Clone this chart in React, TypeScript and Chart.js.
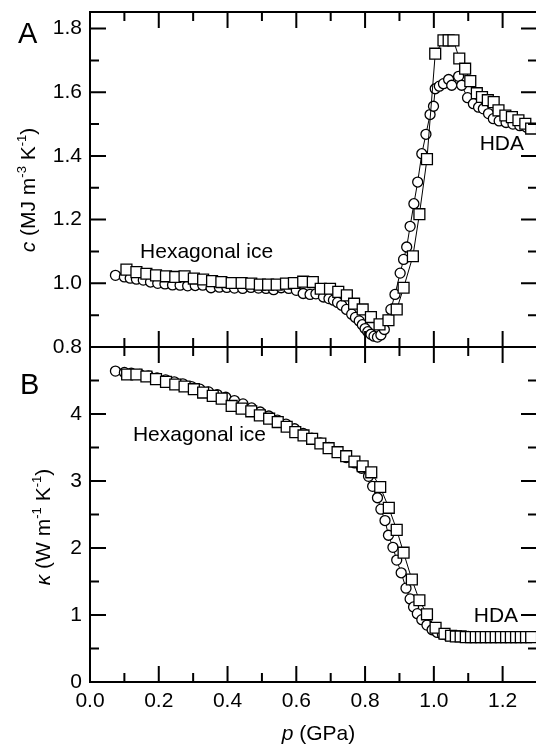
import React, { useEffect, useRef } from 'react';
import { Chart, registerables } from 'chart.js';
Chart.register(...registerables);

// ---- Data ----
const circA_p = [0.074,0.100,0.117,0.135,0.155,0.176,0.197,0.218,0.240,0.262,0.284,0.306,0.328,0.352,0.376,0.398,0.420,0.444,0.468,0.490,0.512,0.534,0.556,0.578,0.600,0.620,0.640,0.657,0.679,0.695,0.708,0.720,0.732,0.746,0.761,0.772,0.783,0.792,0.800,0.808,0.817,0.826,0.836,0.846,0.856,0.866,0.875,0.887,0.902,0.912,0.921,0.931,0.942,0.953,0.965,0.977,0.989,0.999,1.004,1.016,1.028,1.043,1.052,1.072,1.081,1.098,1.115,1.130,1.144,1.159,1.173,1.190,1.210,1.230,1.250,1.270];
const circA_c = [1.025,1.020,1.016,1.013,1.010,1.004,1.000,0.998,0.995,0.994,0.992,0.993,0.994,0.986,0.988,0.987,0.985,0.984,0.987,0.985,0.984,0.980,0.986,0.984,0.978,0.968,0.965,0.967,0.957,0.952,0.947,0.940,0.931,0.918,0.903,0.893,0.882,0.870,0.858,0.848,0.840,0.834,0.831,0.838,0.855,0.885,0.918,0.965,1.032,1.075,1.114,1.179,1.250,1.318,1.407,1.468,1.530,1.556,1.611,1.619,1.627,1.640,1.622,1.650,1.622,1.583,1.564,1.553,1.548,1.533,1.517,1.510,1.505,1.500,1.495,1.490];

const sqA_p = [0.106,0.135,0.164,0.192,0.221,0.248,0.275,0.302,0.329,0.355,0.382,0.412,0.441,0.469,0.494,0.518,0.543,0.570,0.593,0.620,0.648,0.671,0.698,0.722,0.747,0.768,0.793,0.817,0.842,0.868,0.892,0.912,0.939,0.958,0.980,1.004,1.028,1.043,1.057,1.074,1.091,1.106,1.125,1.140,1.157,1.174,1.188,1.208,1.227,1.246,1.266,1.283];
const sqA_c = [1.043,1.035,1.030,1.025,1.022,1.020,1.022,1.015,1.012,1.007,1.004,1.001,1.001,0.999,0.996,0.996,0.996,0.999,1.001,1.005,1.004,0.983,0.983,0.973,0.962,0.936,0.918,0.894,0.871,0.884,0.918,0.986,1.085,1.217,1.390,1.721,1.763,1.763,1.763,1.706,1.674,1.635,1.597,1.585,1.575,1.569,1.543,1.527,1.522,1.512,1.501,1.486];

const circB_p = [0.074,0.100,0.120,0.145,0.170,0.195,0.220,0.245,0.270,0.295,0.320,0.345,0.370,0.395,0.420,0.445,0.470,0.495,0.520,0.545,0.570,0.595,0.620,0.645,0.670,0.695,0.720,0.745,0.770,0.790,0.810,0.822,0.836,0.846,0.858,0.868,0.881,0.892,0.905,0.919,0.931,0.941,0.952,0.965,0.980,0.995,1.010,1.025,1.040,1.060,1.080,1.100,1.120,1.140,1.160,1.180,1.200,1.220,1.240,1.260,1.280];
const circB_k = [4.64,4.62,4.61,4.59,4.57,4.54,4.51,4.48,4.45,4.41,4.37,4.33,4.29,4.25,4.20,4.15,4.09,4.03,3.97,3.91,3.85,3.78,3.71,3.64,3.57,3.50,3.43,3.35,3.27,3.19,3.07,2.92,2.75,2.58,2.41,2.19,2.01,1.82,1.63,1.40,1.24,1.12,1.02,0.93,0.85,0.78,0.74,0.71,0.69,0.68,0.68,0.68,0.67,0.67,0.67,0.67,0.67,0.67,0.67,0.67,0.67];

const sqB_p = [0.108,0.135,0.164,0.192,0.221,0.248,0.275,0.302,0.329,0.357,0.383,0.412,0.441,0.469,0.494,0.521,0.546,0.572,0.597,0.621,0.646,0.670,0.694,0.720,0.745,0.769,0.793,0.818,0.844,0.869,0.892,0.912,0.936,0.958,0.980,1.005,1.031,1.050,1.064,1.078,1.093,1.108,1.122,1.137,1.151,1.166,1.180,1.195,1.210,1.224,1.239,1.253,1.268,1.283];
const sqB_k = [4.59,4.59,4.56,4.52,4.48,4.44,4.41,4.37,4.32,4.27,4.23,4.12,4.08,4.04,3.98,3.93,3.88,3.81,3.73,3.68,3.63,3.56,3.49,3.43,3.37,3.29,3.22,3.13,2.91,2.60,2.27,1.93,1.53,1.22,1.01,0.81,0.72,0.69,0.68,0.68,0.67,0.67,0.67,0.67,0.67,0.67,0.67,0.67,0.67,0.67,0.67,0.67,0.67,0.67];

const xTicks = [0, 0.2, 0.4, 0.6, 0.8, 1.0, 1.2];
const yATicks = [0.8, 1.0, 1.2, 1.4, 1.6, 1.8];
const yBTicks = [0, 1, 2, 3, 4];

const FONT = "'Liberation Sans', Arial, Helvetica, sans-serif";
const FS = 21;

const toXY = (ps: number[], vs: number[]) => ps.map((p, i) => ({ x: p, y: vs[i] }));

type Part = { t: string; it?: boolean; sup?: boolean };

function drawRich(ctx: CanvasRenderingContext2D, parts: Part[], cx: number, baseY: number, size: number) {
  const fontFor = (p: Part) => `${p.it ? 'italic ' : ''}${p.sup ? Math.round(size * 0.62) : size}px ${FONT}`;
  let total = 0;
  const widths = parts.map(p => { ctx.font = fontFor(p); const w = ctx.measureText(p.t).width; total += w; return w; });
  let x = cx - total / 2;
  ctx.textAlign = 'left';
  ctx.textBaseline = 'alphabetic';
  parts.forEach((p, i) => {
    ctx.font = fontFor(p);
    ctx.fillText(p.t, x, p.sup ? baseY - size * 0.42 : baseY);
    x += widths[i];
  });
}

const framePlugin = {
  id: 'frame',
  afterDraw(chart: any) {
    const { ctx, chartArea } = chart;
    const { left, right, top, bottom } = chartArea;
    const xs = chart.scales.x, yA = chart.scales.yA, yB = chart.scales.yB;
    const mid = yB.getPixelForValue(5);
    const MAJ = 16, MIN = 9;
    ctx.save();
    ctx.strokeStyle = '#000';
    ctx.lineWidth = 2;
    ctx.beginPath();
    ctx.rect(left, top, right - left, bottom - top);
    ctx.moveTo(left, mid); ctx.lineTo(right, mid);
    for (let i = 0; i <= 13; i++) {
      const px = xs.getPixelForValue(i / 10);
      const L = i % 2 === 0 ? MAJ : MIN;
      ctx.moveTo(px, top); ctx.lineTo(px, top + L);
      ctx.moveTo(px, mid - L); ctx.lineTo(px, mid + L);
      ctx.moveTo(px, bottom); ctx.lineTo(px, bottom - L);
    }
    for (let i = 0; i <= 10; i++) {
      const py = yA.getPixelForValue(0.8 + i / 10);
      const L = i % 2 === 0 ? MAJ : MIN;
      ctx.moveTo(left, py); ctx.lineTo(left + L, py);
      ctx.moveTo(right, py); ctx.lineTo(right - L, py);
    }
    for (let i = 0; i <= 10; i++) {
      const py = yB.getPixelForValue(i / 2);
      const L = i % 2 === 0 ? MAJ : MIN;
      ctx.moveTo(left, py); ctx.lineTo(left + L, py);
      ctx.moveTo(right, py); ctx.lineTo(right - L, py);
    }
    ctx.stroke();

    ctx.fillStyle = '#000';
    // annotations
    ctx.font = `${FS}px ${FONT}`;
    ctx.textBaseline = 'alphabetic';
    ctx.textAlign = 'left';
    ctx.fillText('Hexagonal ice', xs.getPixelForValue(0.1456), yA.getPixelForValue(1.078));
    ctx.fillText('HDA', xs.getPixelForValue(1.1333), yA.getPixelForValue(1.419));
    ctx.fillText('Hexagonal ice', xs.getPixelForValue(0.1249), yB.getPixelForValue(3.60));
    ctx.textAlign = 'right';
    ctx.fillText('HDA', xs.getPixelForValue(1.245), yB.getPixelForValue(0.896));

    // panel letters
    ctx.textAlign = 'left';
    ctx.font = `29px ${FONT}`;
    ctx.fillText('A', 18, 43);
    ctx.fillText('B', 20, 394);

    // axis titles
    drawRich(ctx, [{ t: 'p', it: true }, { t: ' (GPa)' }], 318.5, 740, FS);
    ctx.save();
    ctx.translate(35, 190);
    ctx.rotate(-Math.PI / 2);
    drawRich(ctx, [{ t: 'c', it: true }, { t: ' (MJ m' }, { t: '-3', sup: true }, { t: ' K' }, { t: '-1', sup: true }, { t: ')' }], 0, 0, FS);
    ctx.restore();
    ctx.save();
    ctx.translate(50, 527);
    ctx.rotate(-Math.PI / 2);
    drawRich(ctx, [{ t: 'κ', it: true }, { t: ' (W m' }, { t: '-1', sup: true }, { t: ' K' }, { t: '-1', sup: true }, { t: ')' }], 0, 0, FS);
    ctx.restore();
    ctx.restore();
  },
};

const tickFont = { family: FONT, size: FS };
const zeroPad = (s: any) => { s.paddingTop = 0; s.paddingBottom = 0; s.paddingLeft = 0; s.paddingRight = 0; };

export default function App() {
  const ref = useRef<HTMLCanvasElement>(null);
  useEffect(() => {
    if (!ref.current) return;
    const circleStyle = { pointStyle: 'circle', pointRadius: 5, pointBorderWidth: 1.3, pointBackgroundColor: '#fff', pointBorderColor: '#000', borderColor: '#000', borderWidth: 1, showLine: true, order: 1 };
    const squareStyle = { pointStyle: 'rect', pointRadius: 7.7, pointBorderWidth: 1.3, pointBackgroundColor: '#fff', pointBorderColor: '#000', borderColor: '#000', borderWidth: 1, showLine: true, order: 0 };
    const chart = new Chart(ref.current, {
      type: 'scatter',
      data: {
        datasets: [
          { label: 'c squares', data: toXY(sqA_p, sqA_c), yAxisID: 'yA', ...squareStyle } as any,
          { label: 'c circles', data: toXY(circA_p, circA_c), yAxisID: 'yA', ...circleStyle } as any,
          { label: 'kappa squares', data: toXY(sqB_p, sqB_k), yAxisID: 'yB', ...squareStyle } as any,
          { label: 'kappa circles', data: toXY(circB_p, circB_k), yAxisID: 'yB', ...circleStyle } as any,
        ],
      },
      options: {
        animation: false,
        responsive: false,
        maintainAspectRatio: false,
        layout: { autoPadding: false, padding: { top: 12, right: 3, left: 0, bottom: 0 } },
        plugins: { legend: { display: false }, tooltip: { enabled: false } },
        scales: {
          x: {
            type: 'linear', axis: 'x', position: 'bottom', min: 0, max: 1.3,
            grid: { display: false, drawTicks: false }, border: { display: false },
            ticks: { font: tickFont, color: '#000', padding: 7, maxRotation: 0, autoSkip: false, callback: (v: any) => Number(v).toFixed(1) },
            afterBuildTicks: (s: any) => { s.ticks = xTicks.map(v => ({ value: v })); },
            afterFit: (s: any) => { s.height = 64; zeroPad(s); },
          },
          yB: {
            type: 'linear', axis: 'y', position: 'left', stack: 'v', stackWeight: 1, min: 0, max: 5,
            grid: { display: false, drawTicks: false }, border: { display: false },
            ticks: { font: tickFont, color: '#000', padding: 8, callback: (v: any) => String(v) },
            afterBuildTicks: (s: any) => { s.ticks = yBTicks.map(v => ({ value: v })); },
            afterFit: (s: any) => { s.width = 90; zeroPad(s); },
          },
          yA: {
            type: 'linear', axis: 'y', position: 'left', stack: 'v', stackWeight: 1, min: 0.8, max: 1.852,
            grid: { display: false, drawTicks: false }, border: { display: false },
            ticks: { font: tickFont, color: '#000', padding: 8, callback: (v: any) => Number(v).toFixed(1) },
            afterBuildTicks: (s: any) => { s.ticks = yATicks.map(v => ({ value: v })); },
            afterFit: (s: any) => { s.width = 90; zeroPad(s); },
          },
        } as any,
      },
      plugins: [framePlugin],
    });
    return () => chart.destroy();
  }, []);
  return (
    <div style={{ position: 'fixed', left: 0, top: 0, width: 536, height: 746, overflow: 'hidden', background: '#fff' }}>
      <canvas ref={ref} width={540} height={746} style={{ width: 540, height: 746, display: 'block' }} />
    </div>
  );
}
